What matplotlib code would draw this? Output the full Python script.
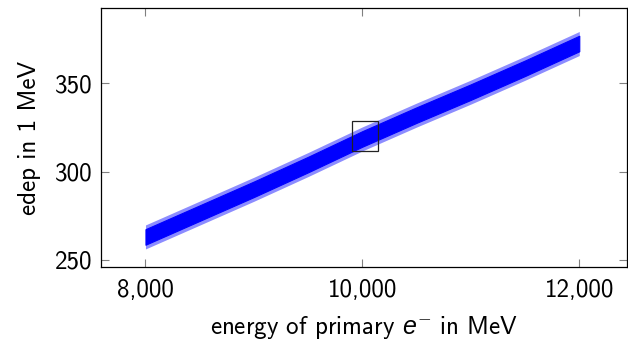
import matplotlib
matplotlib.use("Agg")
import matplotlib.pyplot as plt
from matplotlib.ticker import FuncFormatter
from matplotlib.patches import Rectangle

# envelope of the noisy series
energy = [8000, 8500, 9000, 9500, 10000, 10500, 11000, 11500, 12000]
edep_center = [263.0, 276.5, 290.0, 304.0, 318.5, 332.0, 345.0, 358.5, 372.5]
core_half = [4.4, 4.4, 4.4, 4.4, 4.4, 4.4, 4.4, 4.4, 4.4]
spike_half = [6.8, 6.8, 6.8, 6.8, 6.8, 6.8, 6.8, 6.8, 6.8]
x_ticks = [8000, 10000, 12000]
y_ticks = [250, 300, 350]
zoom_box = [9905, 311.7, 10140, 328.6]  # x0, y0, x1, y1

plt.rcParams['font.family'] = ['cmss10', 'DejaVu Sans']
plt.rcParams['font.size'] = 18
plt.rcParams['mathtext.fontset'] = 'custom'
plt.rcParams['mathtext.rm'] = 'cmss10'
plt.rcParams['mathtext.it'] = 'Liberation Sans:italic'
plt.rcParams['axes.formatter.use_mathtext'] = False
plt.rcParams['axes.unicode_minus'] = False

fig = plt.figure(figsize=(6.28, 3.42), dpi=100)
ax = fig.add_axes([101/628, 75/342, 526/628, 259/342])

lo_s = [c - h for c, h in zip(edep_center, spike_half)]
up_s = [c + h for c, h in zip(edep_center, spike_half)]
ax.fill_between(energy, lo_s, up_s, color='#0000ff', alpha=0.45, linewidth=0)
lower = [c - h for c, h in zip(edep_center, core_half)]
upper = [c + h for c, h in zip(edep_center, core_half)]
ax.fill_between(energy, lower, upper, color='#0000ff', linewidth=0.8, edgecolor='#0000ff')

x0, y0, x1, y1 = zoom_box
ax.add_patch(Rectangle((x0, y0), x1 - x0, y1 - y0, fill=False, edgecolor='#222222', linewidth=0.9, zorder=5))

ax.set_xlim(7590, 12440)
ax.set_ylim(246, 392.6)
ax.set_xticks(x_ticks)
ax.set_yticks(y_ticks)
ax.xaxis.set_major_formatter(FuncFormatter(lambda v, p: f"{int(v):,}"))
ax.tick_params(direction='in', length=6, width=0.8, color='#808080',
               top=True, right=True, labelsize=18, pad=6)
ax.tick_params(axis='x', pad=9)
for s in ax.spines.values():
    s.set_linewidth(0.9)
    s.set_color('black')

ax.set_xlabel(r"energy of primary $e^{-}$ in MeV", fontsize=18, labelpad=8)
ax.set_ylabel("edep in 1 MeV", fontsize=18, labelpad=10)

fig.savefig("out.png", dpi=100)
